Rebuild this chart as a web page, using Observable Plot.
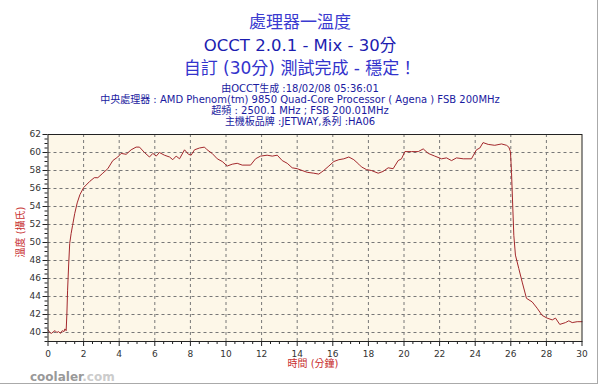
<!DOCTYPE html>
<html><head><meta charset="utf-8">
<script src="https://cdn.jsdelivr.net/npm/d3@7"></script>
<script src="https://cdn.jsdelivr.net/npm/@observablehq/plot@0.6"></script>
<style>
body{margin:0;background:#fff;}
#wrap{position:relative;width:600px;height:386px;overflow:hidden;font-family:"DejaVu Sans","Noto Sans CJK TC",sans-serif;}
#wrap svg{position:absolute;left:0;top:0;}
.t{position:absolute;left:0;width:600px;text-align:center;white-space:nowrap;}
#border{position:absolute;left:0;top:0;width:597px;height:383px;border-right:1px solid #aaa;border-bottom:1px solid #aaa;}
</style></head><body><div id="wrap"></div>
<script>
const titleLines = ["處理器一溫度", "OCCT 2.0.1 - Mix - 30分", "自訂 (30分) 測試完成 - 穩定！"];
const infoLines = ["由OCCT生成 :18/02/08 05:36:01",
  "中央處理器 : AMD Phenom(tm) 9850 Quad-Core Processor ( Agena ) FSB 200MHz",
  "超頻 : 2500.1 MHz ; FSB 200.01MHz",
  "主機板品牌 :JETWAY,系列 :HA06"];
const xLabel = "時間 (分鐘)";
const yLabel = "溫度 (攝氏)";
const xTicks = [0,2,4,6,8,10,12,14,16,18,20,22,24,26,28,30];
const yTicks = [40,42,44,46,48,50,52,54,56,58,60,62];
const minutes = [0,0.1,0.2,0.3,0.4,0.5,0.6,0.7,0.8,0.9,0.95,1.02,1.06,1.1,1.16,1.22,1.3,1.38,1.5,1.64,1.79,2.0,2.2,2.35,2.6,2.8,3.08,3.36,3.64,3.92,4.11,4.39,4.67,4.95,5.14,5.42,5.70,5.89,6.08,6.26,6.54,6.83,7.01,7.20,7.39,7.67,7.89,8.04,8.23,8.51,8.79,8.94,9.22,9.51,9.79,10.07,10.35,10.63,10.91,11.38,11.66,11.94,12.31,12.60,12.88,13.16,13.44,13.72,14.0,14.28,14.56,14.93,15.21,15.49,15.78,16.06,16.34,16.62,16.90,17.18,17.46,17.61,17.89,18.17,18.55,18.83,19.11,19.39,19.67,19.86,20.05,20.42,20.80,21.08,21.36,21.73,22.11,22.39,22.67,22.95,23.33,23.79,24.07,24.26,24.44,24.73,25.10,25.48,25.76,25.89,25.98,26.04,26.1,26.17,26.26,26.45,26.64,26.88,27.2,27.48,27.76,28.04,28.33,28.51,28.75,29.07,29.26,29.45,29.73,30.0];
const temps = [40.3,40.0,39.9,40.1,40.2,40.0,40.1,39.9,40.2,40.1,40.4,40.2,42.0,44.7,47.5,49.9,51.0,51.9,53.2,54.4,55.3,56.1,56.5,56.8,57.2,57.2,57.7,58.2,59.1,59.5,59.9,59.8,60.3,60.6,60.6,60.0,59.5,59.9,59.6,60.0,59.7,59.5,59.2,59.6,59.3,60.3,59.8,59.7,60.3,60.5,60.6,60.3,59.9,59.3,59.0,58.5,58.7,58.8,58.6,58.6,59.3,59.6,59.7,59.6,59.7,59.1,58.8,58.3,58.2,58.0,57.8,57.7,57.6,58.0,58.5,59.0,59.2,59.3,59.5,59.2,58.7,58.4,58.1,58.0,57.7,57.9,58.3,58.2,59.1,59.3,60.1,60.1,60.1,60.4,59.9,59.6,59.3,59.4,59.1,59.4,59.3,59.3,60.3,60.5,61.1,60.9,60.8,60.95,60.8,60.6,60.1,57.8,54.5,50.8,48.6,47.1,45.6,43.8,43.4,42.7,41.9,41.6,41.4,41.6,40.9,41.1,41.3,41.1,41.2,41.2];

const data = minutes.map((m, i) => ({m, t: temps[i]}));
const minorX = d3.range(0, 30.01, 0.5).filter(v => v % 2 !== 0);
const minorY = d3.range(39, 62.01, 0.5).filter(v => v % 2 !== 0);
const font = '"DejaVu Sans","Noto Sans CJK TC",sans-serif';

const chart = Plot.plot({
  width: 600, height: 386,
  marginLeft: 47.5, marginRight: 18.5, marginTop: 134, marginBottom: 45,
  x: {domain: [0, 30]},
  y: {domain: [39, 62]},
  style: {background: "transparent", fontFamily: font, fontSize: "9px", color: "#333"},
  marks: [
    Plot.frame({fill: "#fdf7e8", stroke: null}),
    Plot.gridX(xTicks.filter(v => v > 0 && v < 30), {stroke: "#777", strokeOpacity: 1, strokeDasharray: "3,3"}),
    Plot.gridY(yTicks.filter(v => v < 62), {stroke: "#777", strokeOpacity: 1, strokeDasharray: "3,3"}),
    Plot.line(data, {x: "m", y: "t", stroke: "#a3282c", strokeWidth: 1}),
    Plot.frame({stroke: "#222"}),
    Plot.axisX(xTicks, {tickSize: 5, tickPadding: 4, label: null, stroke: "#222"}),
    Plot.axisX(minorX, {tickSize: 3, text: null, label: null, stroke: "#222"}),
    Plot.axisY(yTicks, {tickSize: 5, tickPadding: 2, label: null, stroke: "#222"}),
    Plot.axisY(minorY, {tickSize: 3, text: null, label: null, stroke: "#222"})
  ]
});
const wrap = document.getElementById("wrap");
wrap.appendChild(chart);

function addText(txt, centerY, size, color, weight) {
  const d = document.createElement("div");
  d.className = "t";
  d.textContent = txt;
  d.style.top = (centerY - size / 2) + "px";
  d.style.fontSize = size + "px";
  d.style.lineHeight = size + "px";
  d.style.color = color;
  if (weight) d.style.fontWeight = weight;
  wrap.appendChild(d);
}
addText(titleLines[0], 22, 17, "#3a3ad0");
addText(titleLines[1], 46.5, 16.5, "#1c1cb0");
addText(titleLines[2], 68.5, 17, "#3333cc");
const infoY = [88.5, 99.5, 110.5, 121.5];
infoLines.forEach((s, i) => addText(s, infoY[i], 10, "#1a1aa0"));

const xl = document.createElement("div");
xl.textContent = xLabel;
Object.assign(xl.style, {position: "absolute", left: "263px", width: "100px", textAlign: "center", top: "359px", fontSize: "10px", lineHeight: "10px", color: "#c83030", whiteSpace: "nowrap"});
wrap.appendChild(xl);
const yl = document.createElement("div");
yl.textContent = yLabel;
Object.assign(yl.style, {position: "absolute", left: "-29px", width: "100px", textAlign: "center", top: "227px", fontSize: "10px", lineHeight: "10px", color: "#c83030", whiteSpace: "nowrap", transform: "rotate(-90deg)"});
wrap.appendChild(yl);

const wm = document.createElement("div");
wm.innerHTML = '<span style="color:#999">coolaler</span><span style="color:#ccc">.com</span>';
Object.assign(wm.style, {position: "absolute", left: "30px", top: "371px", fontSize: "12px", lineHeight: "12px", fontWeight: "bold", whiteSpace: "nowrap"});
wrap.appendChild(wm);

const b = document.createElement("div");
b.id = "border";
wrap.appendChild(b);
</script>
</body></html>
